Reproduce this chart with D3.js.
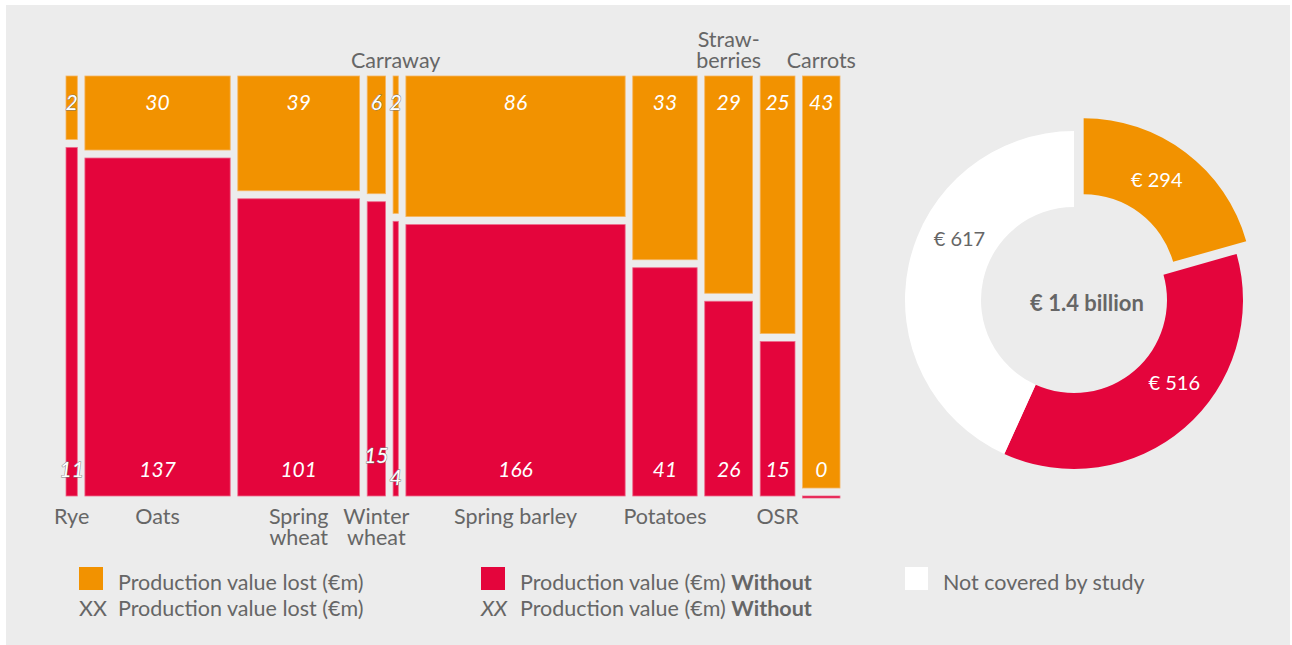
<!DOCTYPE html>
<html lang="en">
<head>
<meta charset="utf-8">
<title>Production value lost</title>
<script src="https://d3js.org/d3.v7.min.js"></script>
<style>
body { margin: 0; background: #fff; }
text { font-family: Lato, "Noto Sans", sans-serif; }
</style>
</head>
<body>
<div id="chart"></div>
<script>
// crops, values in €m
var crops = ["Rye", "Oats", "Spring\nwheat", "Winter\nwheat", "Carraway", "Spring barley",
             "Potatoes", "Straw-\nberries", "OSR", "Carrots"];
var lost    = [2, 30, 39, 6, 2, 86, 33, 29, 25, 43];
var without = [11, 137, 101, 15, 4, 166, 41, 26, 15, 0];

// donut
var donutLabels = ["€ 294", "€ 516", "€ 617"];
var donutValues = [294, 516, 617];
var donutTotal = "€ 1.4 billion";

var orange = "#f29200", red = "#e4053c", grey = "#666";

var W = 1292, H = 645;
var svg = d3.select("#chart").append("svg")
  .attr("width", W).attr("height", H);

// grey panel
svg.append("rect")
  .attr("x", 6).attr("y", 5)
  .attr("width", W - 8).attr("height", H - 5)
  .attr("fill", "#ececec");

// ---- marimekko ----
var mLeft = 66, mRight = 840, mTop = 76, mBottom = 496;
var gap = 7.6, vgap = 8;

var totals = crops.map(function(c, i) { return lost[i] + without[i]; });
var grand = d3.sum(totals);
var x = d3.scaleLinear()
  .domain([0, grand])
  .range([0, (mRight - mLeft) - gap * (crops.length - 1)]);
var y = d3.scaleLinear().domain([0, 1]).range([0, mBottom - mTop - vgap]);

var cols = [];
var cum = 0;
crops.forEach(function(c, i) {
  cols.push({
    name: c, lost: lost[i], without: without[i], total: totals[i],
    x0: mLeft + x(cum) + gap * i,
    w: x(totals[i])
  });
  cum += totals[i];
});

var g = svg.append("g");

var col = g.selectAll(".col").data(cols).enter().append("g");

col.append("rect")
  .attr("x", function(d) { return d.x0; })
  .attr("y", mTop)
  .attr("width", function(d) { return d.w; })
  .attr("height", function(d) { return y(d.lost / d.total); })
  .attr("fill", orange)
  .attr("stroke", "#f6b560").attr("stroke-width", 0.8);

col.append("rect")
  .attr("x", function(d) { return d.x0; })
  .attr("y", function(d) { return mTop + y(d.lost / d.total) + vgap; })
  .attr("width", function(d) { return d.w; })
  .attr("height", function(d) { return Math.max(2, y(d.without / d.total)); })
  .attr("fill", red)
  .attr("stroke", "#ee6a8a").attr("stroke-width", 0.8);

// value labels: narrow columns get an outline
function valueLabel(sel) {
  sel.attr("text-anchor", "middle")
    .attr("fill", "#fff")
    .style("font-size", "21px")
    .style("font-style", "italic")
    .attr("stroke", function(d) { return d.w < 25 ? "#777" : "none"; })
    .attr("stroke-width", 0.9)
    .attr("paint-order", "stroke");
}

col.append("text")
  .attr("x", function(d) { return d.x0 + d.w / 2; })
  .attr("y", mTop + 34)
  .text(function(d) { return d.lost; })
  .call(valueLabel);

var redNudge = {"Winter\nwheat": -14, "Carraway": 8};
col.append("text")
  .attr("x", function(d) { return d.x0 + d.w / 2; })
  .attr("y", function(d) { return mBottom - 19 + (redNudge[d.name] || 0); })
  .text(function(d) { return d.without; })
  .call(valueLabel);

// category labels
var topLabels = ["Carraway", "Straw-\nberries", "Carrots"];
col.each(function(d) {
  var lines = d.name.split("\n");
  var isTop = topLabels.indexOf(d.name) >= 0;
  var t = d3.select(this).append("text")
    .attr("text-anchor", "middle")
    .attr("fill", grey)
    .style("font-size", "21.5px");
  lines.forEach(function(l, k) {
    var yy = isTop ? (mTop - 8 - (lines.length - 1 - k) * 21) : (mBottom + 28 + k * 21);
    t.append("tspan")
      .attr("x", d.x0 + d.w / 2)
      .attr("y", yy)
      .text(l);
  });
});

// ---- donut ----
var cx = 1074, cy = 300, rOut = 169, rIn = 93;
var pie = d3.pie().sort(null)(donutValues);
var arc = d3.arc().innerRadius(rIn).outerRadius(rOut);
var labelArc = d3.arc().innerRadius(130).outerRadius(130);
var sliceColors = [orange, red, "#fff"];
var labelColors = ["#fff", "#fff", grey];
var explode = [16, 0, 0];
var labelTurn = [-0.05, -0.17, 0.28];

var dg = svg.append("g").attr("transform", "translate(" + cx + "," + cy + ")");

var slice = dg.selectAll(".slice").data(pie).enter().append("g")
  .attr("transform", function(d, i) {
    var a = (d.startAngle + d.endAngle) / 2;
    return "translate(" + (Math.sin(a) * explode[i]) + "," + (-Math.cos(a) * explode[i]) + ")";
  });

slice.append("path")
  .attr("d", arc)
  .attr("fill", function(d, i) { return sliceColors[i]; });

slice.append("text")
  .attr("transform", function(d, i) {
    var a = (d.startAngle + d.endAngle) / 2 + labelTurn[i];
    var c = labelArc.centroid({startAngle: a, endAngle: a});
    return "translate(" + c[0] + "," + c[1] + ")";
  })
  .attr("text-anchor", "middle")
  .attr("dy", "0.35em")
  .attr("fill", function(d, i) { return labelColors[i]; })
  .style("font-size", "20px")
  .text(function(d, i) { return donutLabels[i]; });

dg.append("text")
  .attr("x", 13).attr("y", 11)
  .attr("text-anchor", "middle")
  .attr("fill", grey)
  .style("font-size", "22px")
  .style("font-weight", "bold")
  .text(donutTotal);

// ---- legend ----
var legend = svg.append("g").style("font-size", "21.5px").attr("fill", grey);
var legItems = [
  {x: 79, color: orange, label: "Production value lost (€m)", bold: ""},
  {x: 481, color: red, label: "Production value (€m) ", bold: "Without"}
];
legItems.forEach(function(it, i) {
  legend.append("rect")
    .attr("x", it.x).attr("y", 567)
    .attr("width", 24).attr("height", 23)
    .attr("fill", it.color);
  var t1 = legend.append("text").attr("x", it.x + 39).attr("y", 590);
  t1.append("tspan").text(it.label);
  t1.append("tspan").style("font-weight", "bold").text(it.bold);

  legend.append("text").attr("x", it.x).attr("y", 616)
    .style("font-style", i === 1 ? "italic" : "normal")
    .text("XX");
  var t2 = legend.append("text").attr("x", it.x + 39).attr("y", 616);
  t2.append("tspan").text(it.label);
  t2.append("tspan").style("font-weight", "bold").text(it.bold);
});
legend.append("rect")
  .attr("x", 905).attr("y", 567)
  .attr("width", 23).attr("height", 23)
  .attr("fill", "#fff");
legend.append("text").attr("x", 943).attr("y", 590).text("Not covered by study");
</script>
</body>
</html>
